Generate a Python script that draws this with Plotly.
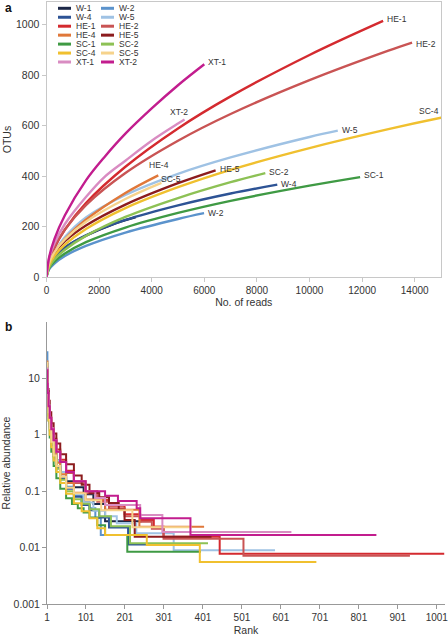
import plotly.graph_objects as go

# ---------------- names / colours ----------------
NAMES = ["W-1", "W-2", "W-4", "W-5", "HE-1", "HE-2", "HE-4", "HE-5",
         "SC-1", "SC-2", "SC-4", "SC-5", "XT-1", "XT-2"]
COLORS = {
    "W-1": "#1c2747", "W-2": "#5b93cc", "W-4": "#2d5395", "W-5": "#9fc2e4",
    "HE-1": "#d42a2f", "HE-2": "#c95454", "HE-4": "#e0783a", "HE-5": "#8c1c1e",
    "SC-1": "#3f9a44", "SC-2": "#8dc155", "SC-4": "#f0c02f", "SC-5": "#f6d38c",
    "XT-1": "#d98cc2", "XT-2": "#c21d8e",
}

# ---------------- panel a: rarefaction (reads, OTUs) ----------------
W1_reads = [0, 100, 300, 700, 1500, 2500, 3400]
W1_otus = [0, 48, 79, 116, 164, 208, 237]
W2_reads = [0, 100, 300, 700, 1500, 3000, 5000, 5990]
W2_otus = [0, 30, 53, 83, 123, 176, 230, 253]
W4_reads = [0, 100, 300, 700, 1500, 3000, 5000, 7000, 8775]
W4_otus = [0, 49, 80, 117, 165, 226, 284, 331, 366]
W5_reads = [0, 100, 300, 700, 1500, 3000, 5000, 7000, 10000, 11075]
W5_otus = [0, 55, 98, 158, 236, 325, 409, 474, 555, 580]
HE1_reads = [0, 100, 300, 700, 1500, 3000, 5000, 7000, 10000, 12800]
HE1_otus = [0, 61, 115, 188, 293, 437, 589, 716, 880, 1015]
HE2_reads = [0, 100, 300, 700, 1500, 3000, 5000, 7000, 10000, 13000, 13900]
HE2_otus = [0, 62, 118, 188, 285, 412, 540, 646, 780, 897, 929]
HE4_reads = [0, 100, 300, 700, 1500, 3000, 4250]
HE4_otus = [0, 51, 94, 150, 227, 333, 403]
HE5_reads = [0, 100, 300, 700, 1500, 3000, 5000, 6430]
HE5_otus = [0, 55, 95, 142, 204, 287, 372, 423]
SC1_reads = [0, 100, 300, 700, 1500, 3000, 5000, 7000, 10000, 11925]
SC1_otus = [0, 35, 61, 93, 138, 196, 254, 302, 362, 396]
SC2_reads = [0, 100, 300, 700, 1500, 3000, 5000, 7000, 8320]
SC2_otus = [0, 38, 69, 108, 163, 238, 313, 376, 412]
SC4_reads = [0, 100, 300, 700, 1500, 3000, 5000, 7000, 10000, 13000, 15000, 18000]
SC4_otus = [0, 47, 83, 128, 190, 273, 356, 425, 511, 586, 631, 692]
SC5_reads = [0, 100, 300, 700, 1500, 3000, 4370]
SC5_otus = [0, 56, 98, 149, 219, 309, 373]
XT1_reads = [0, 100, 300, 700, 1500, 2200, 3000, 4000, 5000, 5250]
XT1_otus = [0, 74, 133, 210, 317, 396, 461, 540, 608, 624]
XT2_reads = [0, 100, 300, 700, 1500, 2200, 3000, 4000, 5000, 6000]
XT2_otus = [0, 78, 150, 245, 383, 475, 568, 668, 760, 843]

# ---------------- panel b: rank-abundance (step breakpoints) ----------------
W1_rank = [1, 2, 3, 5, 8, 12, 18, 25, 35, 50, 70, 95, 120, 150, 244]
W1_abund = [18, 9, 6, 3, 1.6, 0.9, 0.55, 0.35, 0.22, 0.15, 0.118, 0.088, 0.059, 0.0294, 0.0294]
W2_rank = [1, 2, 3, 5, 8, 12, 18, 25, 35, 50, 70, 90, 110, 125, 139, 253]
W2_abund = [29, 9, 5, 2.6, 1.4, 0.8, 0.45, 0.28, 0.18, 0.12, 0.083, 0.067, 0.05, 0.0334, 0.0167, 0.0167]
W4_rank = [1, 2, 3, 5, 8, 12, 18, 25, 35, 50, 70, 90, 110, 135, 160, 209, 366]
W4_abund = [16, 8, 5, 2.5, 1.3, 0.75, 0.42, 0.27, 0.17, 0.11, 0.08, 0.057, 0.046, 0.034, 0.0228, 0.0114, 0.0114]
W5_rank = [1, 2, 3, 5, 8, 12, 18, 25, 35, 50, 70, 95, 120, 150, 180, 230, 326, 586]
W5_abund = [20, 10, 6, 3, 1.6, 0.95, 0.55, 0.35, 0.22, 0.14, 0.09, 0.063, 0.045, 0.036, 0.027, 0.018, 0.009, 0.009]
HE1_rank = [1, 2, 3, 5, 8, 12, 18, 25, 35, 50, 70, 100, 130, 160, 200, 240, 275, 300, 444, 1020]
HE1_abund = [13, 8, 5.5, 3.2, 2, 1.3, 0.85, 0.55, 0.36, 0.23, 0.15, 0.1, 0.07, 0.055, 0.039, 0.031, 0.0234, 0.0156, 0.0078, 0.0078]
HE2_rank = [1, 2, 3, 5, 8, 12, 18, 25, 35, 50, 70, 100, 130, 160, 200, 240, 270, 300, 505, 932]
HE2_abund = [11, 7, 5, 3, 1.8, 1.2, 0.78, 0.5, 0.33, 0.21, 0.14, 0.092, 0.065, 0.05, 0.036, 0.0288, 0.0216, 0.0144, 0.0072, 0.0072]
HE4_rank = [1, 2, 3, 5, 8, 12, 18, 25, 35, 50, 70, 100, 150, 238, 404]
HE4_abund = [20, 10, 6, 3, 1.6, 0.9, 0.5, 0.32, 0.2, 0.14, 0.094, 0.071, 0.047, 0.0235, 0.0235]
HE5_rank = [1, 2, 3, 5, 8, 12, 18, 25, 35, 50, 70, 90, 110, 135, 160, 185, 200, 226, 423]
HE5_abund = [14, 9, 6.5, 4, 2.5, 1.6, 1.05, 0.7, 0.45, 0.3, 0.19, 0.13, 0.093, 0.078, 0.062, 0.047, 0.031, 0.0156, 0.0156]
SC1_rank = [1, 2, 3, 5, 8, 12, 18, 25, 35, 50, 65, 80, 95, 110, 130, 150, 207, 396]
SC1_abund = [12, 6, 3.5, 1.8, 0.9, 0.5, 0.28, 0.17, 0.11, 0.075, 0.059, 0.05, 0.042, 0.034, 0.025, 0.0168, 0.0084, 0.0084]
SC2_rank = [1, 2, 3, 5, 8, 12, 18, 25, 35, 50, 70, 90, 110, 135, 165, 214, 414]
SC2_abund = [14, 7, 4.5, 2.2, 1.2, 0.7, 0.4, 0.25, 0.16, 0.1, 0.072, 0.06, 0.048, 0.036, 0.024, 0.012, 0.012]
SC4_rank = [1, 2, 3, 5, 8, 12, 18, 25, 35, 50, 70, 90, 110, 130, 150, 257, 393, 692]
SC4_abund = [10, 5, 3.2, 1.8, 1, 0.6, 0.35, 0.22, 0.14, 0.09, 0.061, 0.044, 0.033, 0.022, 0.0167, 0.0111, 0.00555, 0.00555]
SC5_rank = [1, 2, 3, 5, 8, 12, 18, 25, 35, 50, 70, 100, 140, 220, 373]
SC5_abund = [19, 8, 5, 2.5, 1.3, 0.75, 0.43, 0.28, 0.18, 0.115, 0.092, 0.069, 0.046, 0.0229, 0.0229]
XT1_rank = [1, 2, 3, 5, 8, 12, 18, 25, 35, 50, 70, 100, 125, 150, 240, 297, 628]
XT1_abund = [15, 8, 5.5, 3.3, 2, 1.3, 0.8, 0.5, 0.33, 0.22, 0.15, 0.1, 0.076, 0.057, 0.038, 0.019, 0.019]
XT2_rank = [1, 2, 3, 5, 8, 12, 18, 25, 35, 50, 70, 100, 125, 150, 183, 231, 240, 369, 846]
XT2_abund = [14, 8, 5.5, 3.2, 2, 1.25, 0.8, 0.5, 0.33, 0.22, 0.15, 0.1, 0.1, 0.083, 0.0667, 0.05, 0.0333, 0.0167, 0.0167]

# axis ticks
READ_TICKS = [0, 2000, 4000, 6000, 8000, 10000, 12000, 14000]
READ_TEXT = ["0", "2000", "4000", "6000", "8000", "10000", "12000", "14000"]
OTU_TICKS = [0, 200, 400, 600, 800, 1000]
RANK_TICKS = [1, 101, 201, 301, 401, 501, 601, 701, 801, 901, 1001]
ABUND_TICKS = [0.001, 0.01, 0.1, 1, 10]
ABUND_TEXT = ["0.001", "0.01", "0.1", "1", "10"]

RARE = {
    "W-1": (W1_reads, W1_otus), "W-2": (W2_reads, W2_otus), "W-4": (W4_reads, W4_otus),
    "W-5": (W5_reads, W5_otus), "HE-1": (HE1_reads, HE1_otus), "HE-2": (HE2_reads, HE2_otus),
    "HE-4": (HE4_reads, HE4_otus), "HE-5": (HE5_reads, HE5_otus), "SC-1": (SC1_reads, SC1_otus),
    "SC-2": (SC2_reads, SC2_otus), "SC-4": (SC4_reads, SC4_otus), "SC-5": (SC5_reads, SC5_otus),
    "XT-1": (XT1_reads, XT1_otus), "XT-2": (XT2_reads, XT2_otus),
}
RANKAB = {
    "W-1": (W1_rank, W1_abund), "W-2": (W2_rank, W2_abund), "W-4": (W4_rank, W4_abund),
    "W-5": (W5_rank, W5_abund), "HE-1": (HE1_rank, HE1_abund), "HE-2": (HE2_rank, HE2_abund),
    "HE-4": (HE4_rank, HE4_abund), "HE-5": (HE5_rank, HE5_abund), "SC-1": (SC1_rank, SC1_abund),
    "SC-2": (SC2_rank, SC2_abund), "SC-4": (SC4_rank, SC4_abund), "SC-5": (SC5_rank, SC5_abund),
    "XT-1": (XT1_rank, XT1_abund), "XT-2": (XT2_rank, XT2_abund),
}

# end labels as printed in panel a: (series whose curve carries it, text, point index,
# xanchor, yanchor, xshift, yshift)
END_LABELS = [
    ("XT-2", "XT-1", -1, "left", "middle", 2, 2),
    ("HE-1", "HE-1", -1, "left", "middle", 2, 2),
    ("HE-2", "HE-2", -1, "left", "middle", 2, -1),
    ("SC-4", "SC-4", 10, "right", "bottom", 0, 0),
    ("XT-1", "XT-2", -1, "center", "bottom", -6, 1),
    ("W-5", "W-5", -1, "left", "middle", 2, 1),
    ("HE-4", "HE-4", -1, "center", "bottom", 1, 3),
    ("SC-5", "SC-5", -1, "left", "middle", -2, 4),
    ("HE-5", "HE-5", -1, "left", "middle", 2, 1),
    ("SC-2", "SC-2", -1, "left", "middle", 2, 1),
    ("W-4", "W-4", -1, "left", "middle", 2, 1),
    ("SC-1", "SC-1", -1, "left", "middle", 2, 2),
    ("W-2", "W-2", -1, "left", "middle", 2, 0),
]

FONT = "Liberation Sans, Arial, Helvetica, sans-serif"
W, H = 448, 639

fig = go.Figure()
for n in NAMES:
    xs, ys = RARE[n]
    fig.add_trace(go.Scatter(x=xs, y=ys, mode="lines", name=n, showlegend=False,
                             line=dict(color=COLORS[n], width=2.4, shape="spline", smoothing=1.0),
                             xaxis="x", yaxis="y", hoverinfo="skip"))
for n in NAMES:
    xs, ys = RANKAB[n]
    fig.add_trace(go.Scatter(x=xs, y=ys, mode="lines", name=n, showlegend=False,
                             line=dict(color=COLORS[n], width=2.0, shape="hv"),
                             xaxis="x2", yaxis="y2", hoverinfo="skip"))

annotations = []
for series, text, idx, xa, ya, xs_, ys_ in END_LABELS:
    xs, ys = RARE[series]
    annotations.append(dict(x=xs[idx], y=ys[idx], xref="x", yref="y", text=text, showarrow=False,
                            xanchor=xa, yanchor=ya, xshift=xs_, yshift=ys_,
                            font=dict(size=8.5, color="#333", family=FONT)))

# manual two-column legend
shapes = []
for i, n in enumerate(NAMES):
    col, row = i % 2, i // 2
    ypx = 8.3 + row * 8.95
    x0 = 58 if col == 0 else 101
    yp = 1 - ypx / H
    shapes.append(dict(type="line", xref="paper", yref="paper", x0=x0 / W, x1=(x0 + 13) / W,
                       y0=yp, y1=yp, line=dict(color=COLORS[n], width=3)))
    annotations.append(dict(x=(x0 + 16) / W, y=yp, xref="paper", yref="paper", text=n,
                            showarrow=False, xanchor="left", yanchor="middle",
                            font=dict(size=8.5, color="#333", family=FONT)))

annotations.append(dict(x=3 / W, y=1 - 8 / H, xref="paper", yref="paper", text="<b>a</b>",
                        showarrow=False, xanchor="left", yanchor="middle",
                        font=dict(size=12, color="#111", family=FONT)))
annotations.append(dict(x=3 / W, y=1 - 327 / H, xref="paper", yref="paper", text="<b>b</b>",
                        showarrow=False, xanchor="left", yanchor="middle",
                        font=dict(size=12, color="#111", family=FONT)))

tickfont_x = dict(size=10, color="#333", family=FONT)
tickfont_y = dict(size=10.5, color="#333", family=FONT)
titlefont = dict(size=10.5, color="#333", family=FONT)

fig.update_layout(
    width=W, height=H, margin=dict(l=0, r=0, t=0, b=0, autoexpand=False),
    paper_bgcolor="white", plot_bgcolor="white",
    font=dict(family=FONT, color="#333"),
    xaxis=dict(domain=[46.5 / W, 441 / W], anchor="y", range=[0, 15000],
               tickvals=READ_TICKS, ticktext=READ_TEXT,
               showline=True, linecolor="#c8c8c8", linewidth=1, mirror=True,
               ticks="outside", ticklen=4, tickcolor="#c8c8c8", showgrid=False, zeroline=False,
               tickfont=tickfont_x, automargin=False, ticklabeloverflow="allow",
               title=dict(text="No. of reads", font=titlefont, standoff=2)),
    yaxis=dict(domain=[1 - 277 / H, 1 - 2 / H], anchor="x", range=[0, 1090], tickvals=OTU_TICKS,
               showline=True, linecolor="#c8c8c8", linewidth=1, mirror=True,
               ticks="outside", ticklen=4, tickcolor="#c8c8c8", showgrid=False, zeroline=False,
               tickfont=tickfont_y, automargin=False,
               title=dict(text="OTUs", font=titlefont, standoff=2)),
    xaxis2=dict(domain=[47 / W, 445 / W], anchor="y2", range=[1, 1022], tickvals=RANK_TICKS,
                showline=True, linecolor="#999", linewidth=1, mirror=False,
                ticks="outside", ticklen=4, tickcolor="#999", showgrid=False, zeroline=False,
                tickfont=tickfont_x, automargin=False, ticklabeloverflow="allow",
                title=dict(text="Rank", font=titlefont, standoff=4)),
    yaxis2=dict(domain=[1 - 604 / H, 1 - 322 / H], anchor="x2", type="log", range=[-3, 2],
                tickvals=ABUND_TICKS, ticktext=ABUND_TEXT,
                showline=True, linecolor="#999", linewidth=1, mirror=False,
                ticks="outside", ticklen=4, tickcolor="#999", showgrid=False, zeroline=False,
                tickfont=tickfont_y, automargin=False,
                title=dict(text="Relative abundance", font=titlefont, standoff=2)),
    annotations=annotations, shapes=shapes,
)

fig.write_html("out.html", config={"displayModeBar": False},
               post_script="document.body.style.margin='0';document.body.style.overflow='hidden';")
